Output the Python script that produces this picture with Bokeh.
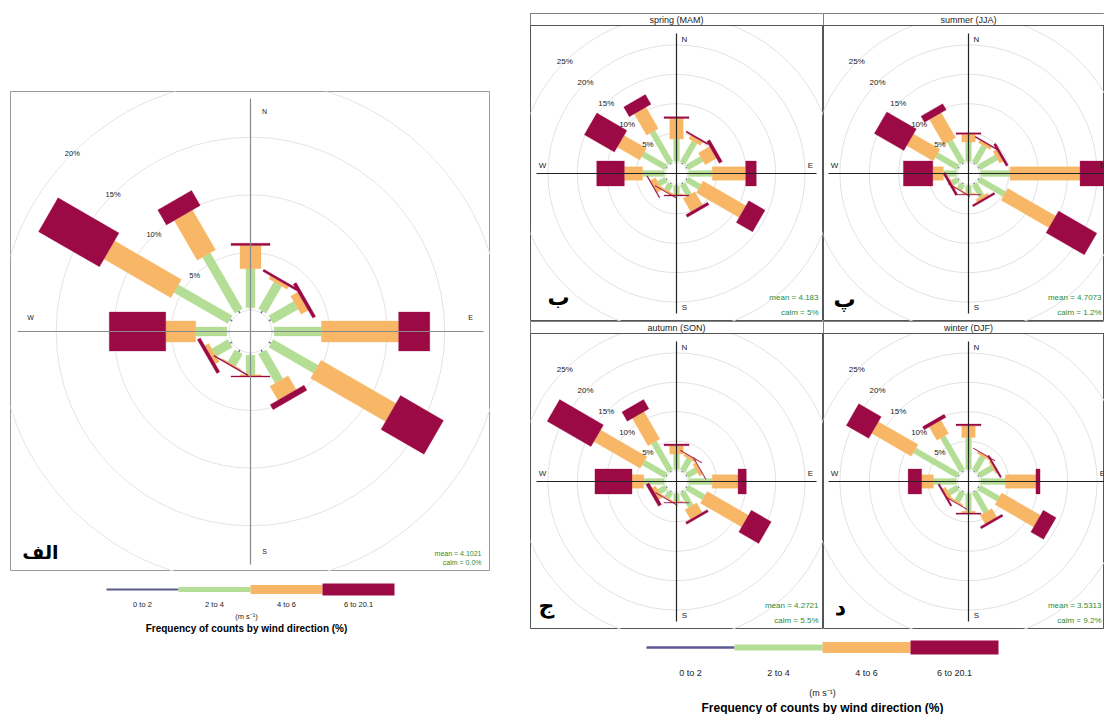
import numpy as np
from bokeh.plotting import figure
from bokeh.layouts import row, column
from bokeh.models import Spacer, Range1d
from bokeh.core.properties import value
from bokeh.embed import file_html
from bokeh.resources import INLINE

# ---------------- data ----------------
directions = [0, 30, 60, 90, 120, 150, 180, 210, 240, 270, 300, 330]
speed_bins = ["0 to 2", "2 to 4", "4 to 6", "6 to 20.1"]
bin_colors = ["#5D5A93", "#B4DE95", "#F8B766", "#9B0A44"]

# frequency (%) of each wind-speed class by direction -- all data
all_0_2 = [0.2, 0.2, 0.2, 0.2, 0.2, 0.2, 0.2, 0.2, 0.2, 0.2, 0.2, 0.2]
all_2_4 = [3.4, 2.7, 2.5, 4.1, 4.5, 2.9, 1.7, 1.2, 1.6, 2.7, 5.4, 5.6]
all_4_6 = [2.0, 0.3, 0.7, 6.7, 7.5, 1.4, 0.1, 0.1, 0.4, 2.6, 6.7, 4.0]
all_6_20 = [0.2, 0.2, 0.3, 2.7, 4.3, 0.5, 0.1, 0.1, 0.3, 4.9, 6.1, 1.5]

# spring (MAM)
spr_0_2 = [0.2, 0.2, 0.2, 0.2, 0.2, 0.2, 0.2, 0.2, 0.2, 0.2, 0.2, 0.2]
spr_2_4 = [3.8, 4.1, 2.9, 4.0, 2.5, 2.2, 1.4, 1.2, 1.4, 3.7, 4.5, 6.1]
spr_4_6 = [3.5, 0.7, 2.2, 5.7, 8.4, 2.6, 0.2, 0.3, 1.0, 3.1, 4.4, 4.2]
spr_6_20 = [0.3, 0.25, 0.6, 1.8, 3.2, 0.5, 0.15, 0.1, 0.15, 4.7, 5.9, 1.9]

# summer (JJA)
sum_0_2 = [0.2, 0.2, 0.2, 0.2, 0.2, 0.2, 0.2, 0.2, 0.2, 0.2, 0.2, 0.2]
sum_2_4 = [3.3, 3.3, 3.4, 5.0, 5.0, 2.4, 1.3, 1.0, 1.1, 2.2, 4.2, 4.3]
sum_4_6 = [1.3, 0.5, 0.7, 11.9, 9.4, 0.5, 0.2, 0.1, 0.2, 1.8, 5.2, 4.9]
sum_6_20 = [0.25, 0.2, 0.4, 4.9, 7.5, 0.35, 0.1, 0.1, 0.4, 5.0, 5.8, 1.2]

# autumn (SON)
aut_0_2 = [0.2, 0.2, 0.2, 0.2, 0.2, 0.2, 0.2, 0.2, 0.2, 0.2, 0.2, 0.2]
aut_2_4 = [2.6, 2.3, 1.8, 4.0, 3.3, 2.8, 1.3, 1.1, 1.4, 3.5, 4.4, 5.6]
aut_4_6 = [1.4, 0.5, 0.6, 4.4, 8.1, 1.9, 0.2, 0.2, 0.7, 2.0, 9.1, 5.4]
aut_6_20 = [0.3, 0.1, 0.1, 1.4, 3.9, 0.4, 0.1, 0.1, 0.6, 6.3, 8.6, 1.8]

# winter (DJF)
win_0_2 = [0.2, 0.2, 0.2, 0.2, 0.2, 0.2, 0.2, 0.2, 0.2, 0.2, 0.2, 0.2]
win_2_4 = [5.4, 2.8, 2.6, 4.2, 3.8, 3.9, 3.0, 1.8, 1.8, 3.9, 8.5, 6.7]
win_4_6 = [2.0, 0.4, 0.3, 5.2, 7.6, 1.7, 0.3, 0.3, 0.6, 2.0, 7.8, 2.6]
win_6_20 = [0.3, 0.1, 0.3, 0.7, 2.5, 0.4, 0.2, 0.1, 0.3, 2.3, 4.4, 0.6]

all_stats = ["mean = 4.1021", "calm = 0.0%"]
season_titles = ["spring (MAM)", "summer (JJA)", "autumn (SON)", "winter (DJF)"]
season_tags = ["ب", "پ", "ج", "د"]
season_stats = [["mean = 4.183", "calm = 5%"],
                ["mean = 4.7073", "calm = 1.2%"],
                ["mean = 4.2721", "calm = 5.5%"],
                ["mean = 3.5313", "calm = 9.2%"]]
all_rings = [5, 10, 15, 20]
season_rings = [5, 10, 15, 20, 25]
compass = ["N", "E", "S", "W"]
unit_label = "(m s\u207b\u00b9)"
legend_title = "Frequency of counts by wind direction (%)"

FONT = value("Liberation Sans")
AR_FONT = value("DejaVu Sans")


def base_fig(W, H, cx, cy, k, outline):
    p = figure(width=W, height=H,
               x_range=Range1d(-cx / k, (W - cx) / k),
               y_range=Range1d(-(H - cy) / k, cy / k),
               output_backend="svg", toolbar_location=None, min_border=0,
               x_axis_location=None, y_axis_location=None)
    p.xgrid.grid_line_color = None
    p.ygrid.grid_line_color = None
    p.outline_line_color = outline
    p.outline_line_width = 1
    p.background_fill_color = "white"
    p.border_fill_color = "white"
    return p


def draw_rose(p, bins, k, off, widths_px, rings, ring_color, axis_color,
              axis_half_px, comp_r_px, comp_side_px, fs_small, fs_comp):
    # grid rings
    radii = [off] + [off + r for r in rings]
    p.circle(x=[0] * len(radii), y=[0] * len(radii), radius=radii,
             fill_color=None, line_color=ring_color, line_width=1)
    # paddles
    th = np.radians(directions)
    ux, uy = np.sin(th), np.cos(th)
    vx, vy = np.cos(th), -np.sin(th)
    cum = np.zeros(len(directions))
    for j, freq in enumerate(bins):
        r0 = off + cum
        cum = cum + np.array(freq, dtype=float)
        r1 = off + cum
        hw = widths_px[j] / 2.0 / k
        xs, ys = [], []
        for i in range(len(directions)):
            xs.append([r0[i] * ux[i] - hw * vx[i], r0[i] * ux[i] + hw * vx[i],
                       r1[i] * ux[i] + hw * vx[i], r1[i] * ux[i] - hw * vx[i]])
            ys.append([r0[i] * uy[i] - hw * vy[i], r0[i] * uy[i] + hw * vy[i],
                       r1[i] * uy[i] + hw * vy[i], r1[i] * uy[i] - hw * vy[i]])
        p.patches(xs, ys, fill_color=bin_colors[j], line_color=bin_colors[j],
                  line_width=0.3)
    # axis lines
    L = axis_half_px / k
    p.segment(x0=[-L, 0], y0=[0, -L], x1=[L, 0], y1=[0, L],
              line_color=axis_color, line_width=1.2)
    # ring labels at 315 degrees
    lab_r = np.array([off + r for r in rings])
    a = np.radians(315)
    p.text(x=lab_r * np.sin(a), y=lab_r * np.cos(a),
           text=[f"{r}%" for r in rings], text_font=FONT,
           text_font_size=fs_small, text_align="center",
           text_baseline="middle", text_color="#222222")
    # compass letters
    R = comp_r_px / k
    s = comp_side_px / k
    p.text(x=[s, R, s, -R], y=[R, s, -R, s], text=compass, text_font=FONT,
           text_font_size=fs_comp, text_align="center",
           text_baseline="middle", text_color="#222222")


# ---------------- overall panel ----------------
K_ALL = 11.53
OFF_ALL = 1.85
p_all = base_fig(480, 480, 240, 240, K_ALL, "#9A9A9A")
draw_rose(p_all, [all_0_2, all_2_4, all_4_6, all_6_20], K_ALL, OFF_ALL,
          [1, 9, 21, 39], all_rings, "#E4E4E4", "#8A8A8A",
          233, 220, 14, "7.5px", "7px")
p_all.text(x=[231 / K_ALL] * 2, y=[-222 / K_ALL, -231 / K_ALL], text=all_stats,
           text_font=FONT, text_font_size="7px", text_align="right",
           text_baseline="middle", text_color="#2E8B3A")
p_all.text(x=[-210 / K_ALL], y=[-220 / K_ALL], text=["الف"], text_font=AR_FONT,
           text_font_size="19px", text_font_style="bold", text_align="center",
           text_baseline="middle", text_color="black")

# ---------------- seasonal panels ----------------
K_S = 5.88
OFF_S = 1.87
STRIP = 12
season_bins = [[spr_0_2, spr_2_4, spr_4_6, spr_6_20],
               [sum_0_2, sum_2_4, sum_4_6, sum_6_20],
               [aut_0_2, aut_2_4, aut_4_6, aut_6_20],
               [win_0_2, win_2_4, win_4_6, win_6_20]]
tag_pos = [(-118, -124), (-124, -126), (-130, -124), (-128, -126)]
season_figs = []
for n in range(4):
    W = 293 if n % 2 == 0 else 281
    cx = 146 if n % 2 == 0 else 145
    H = 308
    cy = STRIP + 148
    p = base_fig(W, H, cx, cy, K_S, "#555555")
    draw_rose(p, season_bins[n], K_S, OFF_S, [0.8, 5.8, 13.5, 25],
              season_rings, "#E2E2E2", "#222222", 140, 134, 8, "8px", "8px")
    stat_x = min(142, W - cx - 3)
    p.text(x=[stat_x / K_S] * 2, y=[-124 / K_S, -139 / K_S], text=season_stats[n],
           text_font=FONT, text_font_size="8px", text_align="right",
           text_baseline="middle", text_color="#2E8B3A")
    p.text(x=[tag_pos[n][0] / K_S], y=[tag_pos[n][1] / K_S], text=[season_tags[n]],
           text_font=AR_FONT, text_font_size="22px", text_font_style="bold",
           text_align="center", text_baseline="middle", text_color="black")
    # strip
    sb, st = 148 / K_S, cy / K_S
    p.quad(left=[-cx / K_S], right=[(W - cx) / K_S], bottom=[sb], top=[st],
           fill_color="white", line_color=None)
    p.segment(x0=[-cx / K_S], x1=[(W - cx) / K_S], y0=[sb], y1=[sb],
              line_color="#555555", line_width=1)
    p.text(x=[0], y=[(sb + st) / 2], text=[season_titles[n]], text_font=FONT,
           text_font_size="9px", text_align="center", text_baseline="middle",
           text_color="#222222")
    season_figs.append(p)


# ---------------- legends ----------------
def legend_fig(W, H, x0, seg, y_bar, thick, y_lab, y_unit, y_title, cx_text,
               fs_lab, fs_title):
    p = figure(width=W, height=H, x_range=Range1d(0, W), y_range=Range1d(H, 0),
               output_backend="svg", toolbar_location=None, min_border=0,
               x_axis_location=None, y_axis_location=None)
    p.xgrid.grid_line_color = None
    p.ygrid.grid_line_color = None
    p.outline_line_color = None
    n = len(speed_bins)
    left = x0 + np.arange(n) * seg
    right = left + seg
    th = np.array(thick)
    p.quad(left=left, right=right, top=y_bar - th / 2, bottom=y_bar + th / 2,
           fill_color=bin_colors, line_color=None)
    p.text(x=(left + right) / 2, y=[y_lab] * n, text=speed_bins, text_font=FONT,
           text_font_size=fs_lab, text_align="center", text_baseline="middle",
           text_color="#222222")
    p.text(x=[cx_text], y=[y_unit], text=[unit_label], text_font=FONT,
           text_font_size=fs_lab, text_align="center", text_baseline="middle",
           text_color="#222222")
    p.text(x=[cx_text], y=[y_title], text=[legend_title], text_font=FONT,
           text_font_size=fs_title, text_font_style="bold", text_align="center",
           text_baseline="middle", text_color="black")
    return p


leg_left = legend_fig(480, 70, 96, 72, 18, [2, 5, 9, 12], 33, 45, 57, 236,
                      "7.5px", "10px")
leg_right = legend_fig(574, 85, 116, 88, 18, [2.5, 6, 11, 14], 43, 63, 78.5, 292,
                       "9px", "12px")

left_col = column(Spacer(width=490, height=91),
                  row(Spacer(width=10, height=480), p_all),
                  row(Spacer(width=10, height=70), leg_left))
grid = row(column(season_figs[0], season_figs[2]),
           column(season_figs[1], season_figs[3]))
right_col = column(Spacer(width=574, height=13), grid, leg_right)
layout = row(left_col, Spacer(width=40, height=10), right_col)

open("out.html", "w").write(file_html(layout, INLINE))
